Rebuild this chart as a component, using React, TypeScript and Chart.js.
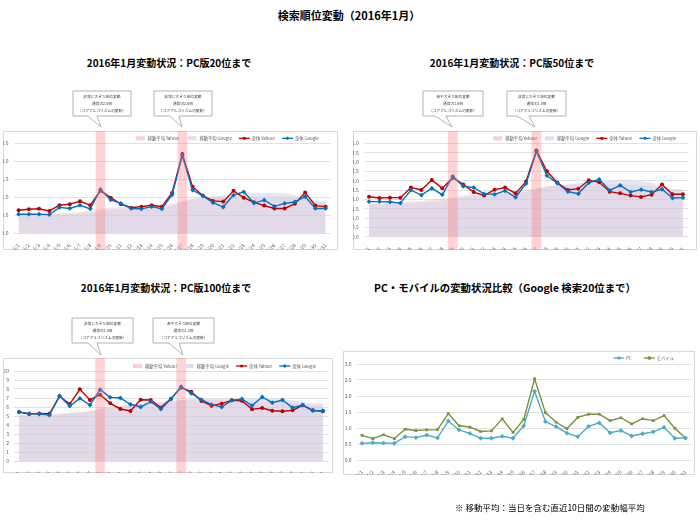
import React, { useEffect, useRef } from "react";
import { Chart, registerables } from "chart.js";
Chart.register(...registerables);

const FONT = "'Noto Sans CJK JP', 'Noto Sans', sans-serif";

// ---------- data ----------
const days = [
  "1/1", "1/2", "1/3", "1/4", "1/5", "1/6", "1/7", "1/8", "1/9", "1/10",
  "1/11", "1/12", "1/13", "1/14", "1/15", "1/16", "1/17", "1/18", "1/19", "1/20",
  "1/21", "1/22", "1/23", "1/24", "1/25", "1/26", "1/27", "1/28", "1/29", "1/30", "1/31",
];
const bandDays = ["1/9", "1/17"];

const pc20Yahoo = [0.64, 0.67, 0.68, 0.62, 0.78, 0.81, 0.89, 0.78, 1.18, 0.99, 0.81, 0.71, 0.74, 0.78, 0.74, 1.12, 2.2, 1.29, 1.05, 0.9, 0.88, 1.18, 0.99, 0.86, 0.77, 0.69, 0.69, 0.82, 1.13, 0.77, 0.74];
const pc20Google = [0.53, 0.53, 0.53, 0.52, 0.72, 0.69, 0.78, 0.68, 1.22, 0.93, 0.83, 0.69, 0.68, 0.74, 0.68, 1.07, 2.15, 1.2, 1.04, 0.85, 0.73, 1.06, 1.15, 0.84, 0.92, 0.75, 0.83, 0.87, 1.02, 0.69, 0.69];
const pc20MaYahoo = [0.5, 0.51, 0.52, 0.53, 0.56, 0.57, 0.59, 0.63, 0.68, 0.71, 0.74, 0.76, 0.77, 0.79, 0.8, 0.83, 0.89, 0.95, 0.98, 0.99, 1.0, 1.01, 1.01, 1.02, 1.02, 1.02, 1.01, 0.99, 0.95, 0.88, 0.85];
const pc20MaGoogle = [0.5, 0.5, 0.5, 0.5, 0.52, 0.53, 0.55, 0.58, 0.62, 0.65, 0.68, 0.7, 0.71, 0.73, 0.74, 0.77, 0.86, 0.96, 1.0, 1.02, 1.04, 1.08, 1.1, 1.11, 1.12, 1.12, 1.11, 1.06, 0.98, 0.9, 0.88];

const pc50Yahoo = [2.14, 2.07, 2.09, 2.09, 2.63, 2.5, 3.04, 2.59, 3.16, 2.8, 2.39, 2.21, 2.52, 2.63, 2.32, 2.95, 4.61, 3.5, 2.89, 2.5, 2.57, 3.02, 2.91, 2.41, 2.32, 2.2, 2.13, 2.25, 2.79, 2.27, 2.27];
const pc50Google = [1.88, 1.88, 1.86, 1.8, 2.5, 2.23, 2.59, 2.25, 3.23, 2.7, 2.63, 2.29, 2.27, 2.46, 2.11, 2.84, 4.55, 3.27, 2.86, 2.41, 2.3, 2.89, 3.07, 2.48, 2.75, 2.39, 2.52, 2.39, 2.54, 2.07, 2.09];
const pc50MaYahoo = [1.76, 1.77, 1.79, 1.83, 1.9, 1.93, 1.96, 2.03, 2.12, 2.2, 2.26, 2.31, 2.36, 2.4, 2.45, 2.5, 2.58, 2.7, 2.76, 2.78, 2.79, 2.8, 2.81, 2.8, 2.8, 2.78, 2.75, 2.7, 2.62, 2.52, 2.48];
const pc50MaGoogle = [1.74, 1.74, 1.75, 1.76, 1.8, 1.83, 1.87, 1.92, 2.02, 2.1, 2.16, 2.21, 2.26, 2.3, 2.34, 2.4, 2.52, 2.66, 2.74, 2.8, 2.86, 2.92, 2.96, 2.98, 2.99, 2.99, 2.97, 2.9, 2.7, 2.55, 2.53];

const pc100Yahoo = [5.44, 5.22, 5.28, 5.25, 7.19, 6.33, 7.96, 6.78, 7.37, 6.41, 5.78, 5.56, 6.81, 6.78, 5.93, 6.93, 8.15, 7.7, 6.67, 6.15, 6.37, 6.74, 6.7, 5.74, 5.89, 5.59, 5.52, 5.63, 6.19, 5.63, 5.52];
const pc100Google = [5.44, 5.26, 5.22, 5.11, 7.22, 6.11, 6.96, 6.22, 7.93, 7.07, 7.0, 6.3, 6.0, 6.59, 5.78, 6.89, 8.26, 7.52, 6.81, 6.26, 6.0, 6.74, 6.89, 6.15, 7.11, 6.48, 6.78, 5.93, 6.22, 5.59, 5.59];
const pc100MaYahoo = [5.1, 5.1, 5.1, 5.12, 5.28, 5.35, 5.45, 5.55, 5.85, 6.04, 6.15, 6.3, 6.38, 6.48, 6.55, 6.63, 6.78, 6.82, 6.8, 6.78, 6.75, 6.72, 6.7, 6.65, 6.6, 6.55, 6.5, 6.4, 6.3, 6.2, 6.15];
const pc100MaGoogle = [5.05, 5.05, 5.05, 5.05, 5.2, 5.25, 5.35, 5.45, 5.75, 5.95, 6.08, 6.22, 6.3, 6.4, 6.48, 6.58, 6.76, 6.86, 6.88, 6.88, 6.88, 6.88, 6.88, 6.88, 6.88, 6.88, 6.85, 6.75, 6.55, 6.45, 6.4];

const cmpPc = [0.52, 0.54, 0.53, 0.52, 0.73, 0.7, 0.78, 0.69, 1.22, 0.94, 0.83, 0.68, 0.68, 0.74, 0.68, 1.07, 2.15, 1.2, 1.04, 0.84, 0.73, 1.05, 1.16, 0.85, 0.92, 0.75, 0.82, 0.88, 1.02, 0.68, 0.69];
const cmpMobile = [0.77, 0.67, 0.79, 0.67, 0.96, 0.92, 0.94, 0.95, 1.45, 1.07, 1.03, 0.89, 0.91, 1.29, 0.86, 1.27, 2.54, 1.48, 1.18, 0.98, 1.33, 1.43, 1.43, 1.23, 1.32, 1.13, 1.29, 1.23, 1.39, 0.99, 0.68];

// ---------- colours ----------
const C_YAHOO = "#c00000";
const C_GOOGLE = "#0070c0";
const C_MA_YAHOO = "rgba(250,190,195,0.45)";
const C_MA_GOOGLE = "rgba(200,208,238,0.5)";
const C_PC = "#4bacc6";
const C_MOBILE = "#77933c";
const C_BAND = "rgba(255,120,120,0.33)";
const C_TEXT = "#595959";

// ---------- plugins ----------
function drawMarker(ctx: CanvasRenderingContext2D, style: string, x: number, y: number, r: number, color: string) {
  ctx.fillStyle = color;
  ctx.beginPath();
  if (style === "circle") ctx.arc(x, y, r, 0, Math.PI * 2);
  else if (style === "rectRot") {
    ctx.moveTo(x, y - r * 1.2); ctx.lineTo(x + r * 1.2, y); ctx.lineTo(x, y + r * 1.2); ctx.lineTo(x - r * 1.2, y); ctx.closePath();
  } else ctx.rect(x - r, y - r, 2 * r, 2 * r);
  ctx.fill();
}

const bandPlugin = {
  id: "bands",
  afterDatasetsDraw(chart: any, _a: any, opts: any) {
    const list: string[] = opts.days || [];
    if (!list.length) return;
    const x = chart.scales.x;
    const step = x.getPixelForValue(1) - x.getPixelForValue(0);
    const ctx = chart.ctx;
    ctx.save();
    ctx.fillStyle = opts.color;
    for (const d of list) {
      const i = chart.data.labels.indexOf(d);
      const cx = x.getPixelForValue(i);
      ctx.fillRect(cx - step * 0.47, 0, step * 0.94, chart.height);
    }
    ctx.restore();
  },
};

const legendPlugin = {
  id: "miniLegend",
  afterDraw(chart: any, _a: any, opts: any) {
    const items = opts.items || [];
    if (!items.length) return;
    const ctx: CanvasRenderingContext2D = chart.ctx;
    ctx.save();
    ctx.font = `${opts.size}px ${FONT}`;
    const sw = 11, g = 2;
    const widths = items.map((it: any) => sw + g + ctx.measureText(it.text).width);
    const total = widths.reduce((a: number, b: number) => a + b, 0) + opts.gap * (items.length - 1);
    let x = chart.chartArea.right - opts.rightGap - total;
    const y = chart.chartArea.top - opts.above;
    items.forEach((it: any, i: number) => {
      if (it.kind === "area") {
        ctx.fillStyle = it.color;
        ctx.fillRect(x + 1, y - 2, sw - 2, 4);
      } else {
        ctx.strokeStyle = it.color;
        ctx.lineWidth = 1.3;
        ctx.beginPath(); ctx.moveTo(x, y); ctx.lineTo(x + sw, y); ctx.stroke();
        drawMarker(ctx, it.marker, x + sw / 2, y, 1.6, it.color);
      }
      ctx.fillStyle = C_TEXT;
      ctx.textBaseline = "middle";
      ctx.textAlign = "left";
      ctx.fillText(it.text, x + sw + g, y + 0.3);
      x += widths[i] + opts.gap;
    });
    ctx.restore();
  },
};

// ---------- config builders ----------
type Geo = { w: number; h: number; plotLeft: number; padRight: number; padTop: number; xAxisH: number };

function scales(geo: Geo, max: number, step: number, decimals: number) {
  return {
    x: {
      type: "category",
      offset: true,
      grid: { display: false },
      border: { display: false },
      ticks: {
        autoSkip: false, minRotation: 45, maxRotation: 45, padding: 1,
        color: C_TEXT, font: { size: 5, family: FONT },
      },
      afterFit: (s: any) => { s.height = geo.xAxisH; },
    },
    y: {
      min: 0, max,
      grid: { color: "#d9d9d9", lineWidth: 0.8, drawTicks: false },
      border: { display: false },
      ticks: {
        stepSize: step, padding: 5, color: C_TEXT, font: { size: 5, family: FONT },
        autoSkip: false,
        callback: (v: any) => Number(v).toFixed(decimals),
      },
      afterFit: (s: any) => { s.width = geo.plotLeft; },
    },
  };
}

function rankConfig(geo: Geo, yahoo: number[], google: number[], maY: number[], maG: number[], max: number, step: number, decimals: number): any {
  return {
    type: "line",
    data: {
      labels: days,
      datasets: [
        { label: "全体 Google", data: google, order: 0, borderColor: C_GOOGLE, backgroundColor: C_GOOGLE, borderWidth: 1.4, pointStyle: "rectRot", pointRadius: 2.4, pointBorderWidth: 0, fill: false, tension: 0 },
        { label: "全体 Yahoo!", data: yahoo, order: 1, borderColor: C_YAHOO, backgroundColor: C_YAHOO, borderWidth: 1.4, pointStyle: "circle", pointRadius: 2.0, pointBorderWidth: 0, fill: false, tension: 0 },
        { label: "移動平均 Google", data: maG, order: 2, borderWidth: 0, borderColor: "rgba(0,0,0,0)", backgroundColor: C_MA_GOOGLE, pointRadius: 0, fill: "origin", tension: 0 },
        { label: "移動平均 Yahoo!", data: maY, order: 3, borderWidth: 0, borderColor: "rgba(0,0,0,0)", backgroundColor: C_MA_YAHOO, pointRadius: 0, fill: "origin", tension: 0 },
      ],
    },
    options: {
      animation: false,
      responsive: false,
      devicePixelRatio: 1,
      layout: { padding: { left: 0, right: geo.padRight, top: geo.padTop, bottom: 0 } },
      scales: scales(geo, max, step, decimals),
      plugins: {
        legend: { display: false },
        tooltip: { enabled: false },
        bands: { days: bandDays, color: C_BAND },
        miniLegend: {
          size: 4.3, gap: 7, rightGap: 12, above: 5,
          items: [
            { kind: "area", color: "rgba(250,205,208,1)", text: "移動平均 Yahoo!" },
            { kind: "area", color: "rgba(218,224,244,1)", text: "移動平均 Google" },
            { kind: "line", color: C_YAHOO, marker: "circle", text: "全体 Yahoo!" },
            { kind: "line", color: C_GOOGLE, marker: "rectRot", text: "全体 Google" },
          ],
        },
      },
    },
    plugins: [bandPlugin, legendPlugin],
  };
}

function compareConfig(geo: Geo): any {
  return {
    type: "line",
    data: {
      labels: days,
      datasets: [
        { label: "モバイル", data: cmpMobile, order: 1, borderColor: C_MOBILE, backgroundColor: C_MOBILE, borderWidth: 1.4, pointStyle: "rect", pointRadius: 1.9, pointBorderWidth: 0, fill: false, tension: 0 },
        { label: "PC", data: cmpPc, order: 0, borderColor: C_PC, backgroundColor: C_PC, borderWidth: 1.4, pointStyle: "rectRot", pointRadius: 2.4, pointBorderWidth: 0, fill: false, tension: 0 },
      ],
    },
    options: {
      animation: false,
      responsive: false,
      devicePixelRatio: 1,
      layout: { padding: { left: 0, right: geo.padRight, top: geo.padTop, bottom: 0 } },
      scales: scales(geo, 3, 0.5, 1),
      plugins: {
        legend: { display: false },
        tooltip: { enabled: false },
        bands: { days: [] },
        miniLegend: {
          size: 4.3, gap: 12, rightGap: 17, above: 6,
          items: [
            { kind: "line", color: C_PC, marker: "rectRot", text: "PC" },
            { kind: "line", color: C_MOBILE, marker: "rect", text: "モバイル" },
          ],
        },
      },
    },
    plugins: [bandPlugin, legendPlugin],
  };
}

// ---------- components ----------
function Panel({ left, top, geo, make }: { left: number; top: number; geo: Geo; make: (g: Geo) => any }) {
  const ref = useRef<HTMLCanvasElement>(null);
  useEffect(() => {
    const chart = new Chart(ref.current as HTMLCanvasElement, make(geo));
    return () => chart.destroy();
  }, []);
  return (
    <div style={{ position: "absolute", left, top, width: geo.w, height: geo.h }}>
      <div style={{ position: "absolute", left: 0, top: 0, width: geo.w, height: geo.h, boxSizing: "border-box", border: "1px solid #d9d9d9" }} />
      <canvas ref={ref} width={geo.w} height={geo.h} style={{ position: "absolute", left: 0, top: 0, width: geo.w, height: geo.h }} />
    </div>
  );
}

function Label({ x, y, size, bold, children, anchor = "center" }: any) {
  return (
    <div style={{
      position: "absolute", left: x, top: y, whiteSpace: "nowrap", fontSize: size,
      fontWeight: bold ? 700 : 400, color: "#000", lineHeight: 1,
      transform: anchor === "center" ? "translate(-50%,-50%)" : "translate(0,-50%)",
    }}>{children}</div>
  );
}

type Callout = { x: number; y: number; w: number; h: number; p1: number; p2: number; tx: number; ty: number; lines: string[] };

const callouts: Callout[] = [
  { x: 73, y: 91, w: 58, h: 25, p1: 88, p2: 97, tx: 101, ty: 127, lines: ["非常に大きな順位変動", "通常の2.0倍", "（コアアルゴリズムの更新）"] },
  { x: 154, y: 91, w: 58, h: 25, p1: 170, p2: 179, tx: 182, ty: 127, lines: ["非常に大きな順位変動", "通常の2.6倍", "（コアアルゴリズムの更新）"] },
  { x: 423, y: 91, w: 60, h: 25, p1: 435, p2: 446, tx: 452, ty: 127, lines: ["若干大きな順位変動", "通常の1.6倍", "（コアアルゴリズムの更新）"] },
  { x: 507, y: 91, w: 59, h: 25, p1: 517, p2: 529, tx: 535, ty: 127, lines: ["非常に大きな順位変動", "通常の1.8倍", "（コアアルゴリズムの更新）"] },
  { x: 72, y: 318, w: 61, h: 25, p1: 88, p2: 97, tx: 101, ty: 355, lines: ["非常に大きな順位変動", "通常の1.4倍", "（コアアルゴリズムの更新）"] },
  { x: 153, y: 318, w: 61, h: 25, p1: 169, p2: 179, tx: 183, ty: 355, lines: ["若干大きな順位変動", "通常の1.2倍", "（コアアルゴリズムの更新）"] },
];

function Callouts() {
  return (
    <svg width={700} height={525} style={{ position: "absolute", left: 0, top: 0, pointerEvents: "none" }}>
      {callouts.map((c, i) => {
        const b = c.y + c.h;
        const d = `M${c.x},${c.y} H${c.x + c.w} V${b} H${c.p2} L${c.tx},${c.ty} L${c.p1},${b} H${c.x} Z`;
        return (
          <g key={i}>
            <path d={d} fill="#fff" stroke="#a0a0a0" strokeWidth={0.8} />
            {c.lines.map((t, j) => (
              <text key={j} x={c.x + c.w / 2} y={c.y + 5.5 + j * 7} fontSize={3.7} fill="#404040"
                textAnchor="middle" dominantBaseline="middle" fontFamily={FONT}>{t}</text>
            ))}
          </g>
        );
      })}
    </svg>
  );
}

const geo20: Geo = { w: 335, h: 119, plotLeft: 10.5, padRight: 7.3, padTop: 12.3, xAxisH: 16.7 };
const geo50: Geo = { w: 344, h: 119, plotLeft: 10.8, padRight: 8.8, padTop: 12.3, xAxisH: 13.3 };
const geo100: Geo = { w: 330, h: 115, plotLeft: 11, padRight: 5, padTop: 13, xAxisH: 12 };
const geoCmp: Geo = { w: 352, h: 124, plotLeft: 13.6, padRight: 2.6, padTop: 13, xAxisH: 15 };

export default function App() {
  return (
    <div style={{ position: "absolute", left: 0, top: 0, width: 700, height: 525, background: "#fff", fontFamily: FONT, overflow: "hidden" }}>
      <Label x={349} y={15} size={11} bold>検索順位変動（2016年1月）</Label>
      <Label x={169} y={63} size={10} bold>2016年1月変動状況：PC版20位まで</Label>
      <Label x={512} y={63} size={10} bold>2016年1月変動状況：PC版50位まで</Label>
      <Label x={166} y={288} size={10} bold>2016年1月変動状況：PC版100位まで</Label>
      <Label x={505} y={288} size={10.4} bold>PC・モバイルの変動状況比較（Google 検索20位まで）</Label>

      <Panel left={3} top={131} geo={geo20} make={(g) => rankConfig(g, pc20Yahoo, pc20Google, pc20MaYahoo, pc20MaGoogle, 2.5, 0.5, 1)} />
      <Panel left={353} top={131} geo={geo50} make={(g) => rankConfig(g, pc50Yahoo, pc50Google, pc50MaYahoo, pc50MaGoogle, 5, 0.5, 1)} />
      <Panel left={3} top={358} geo={geo100} make={(g) => rankConfig(g, pc100Yahoo, pc100Google, pc100MaYahoo, pc100MaGoogle, 10, 1, 0)} />
      <Panel left={343} top={351} geo={geoCmp} make={(g) => compareConfig(g)} />

      <Callouts />

      <Label x={455} y={507} size={8.5} anchor="left">※ 移動平均：当日を含む直近10日間の変動幅平均</Label>
    </div>
  );
}
